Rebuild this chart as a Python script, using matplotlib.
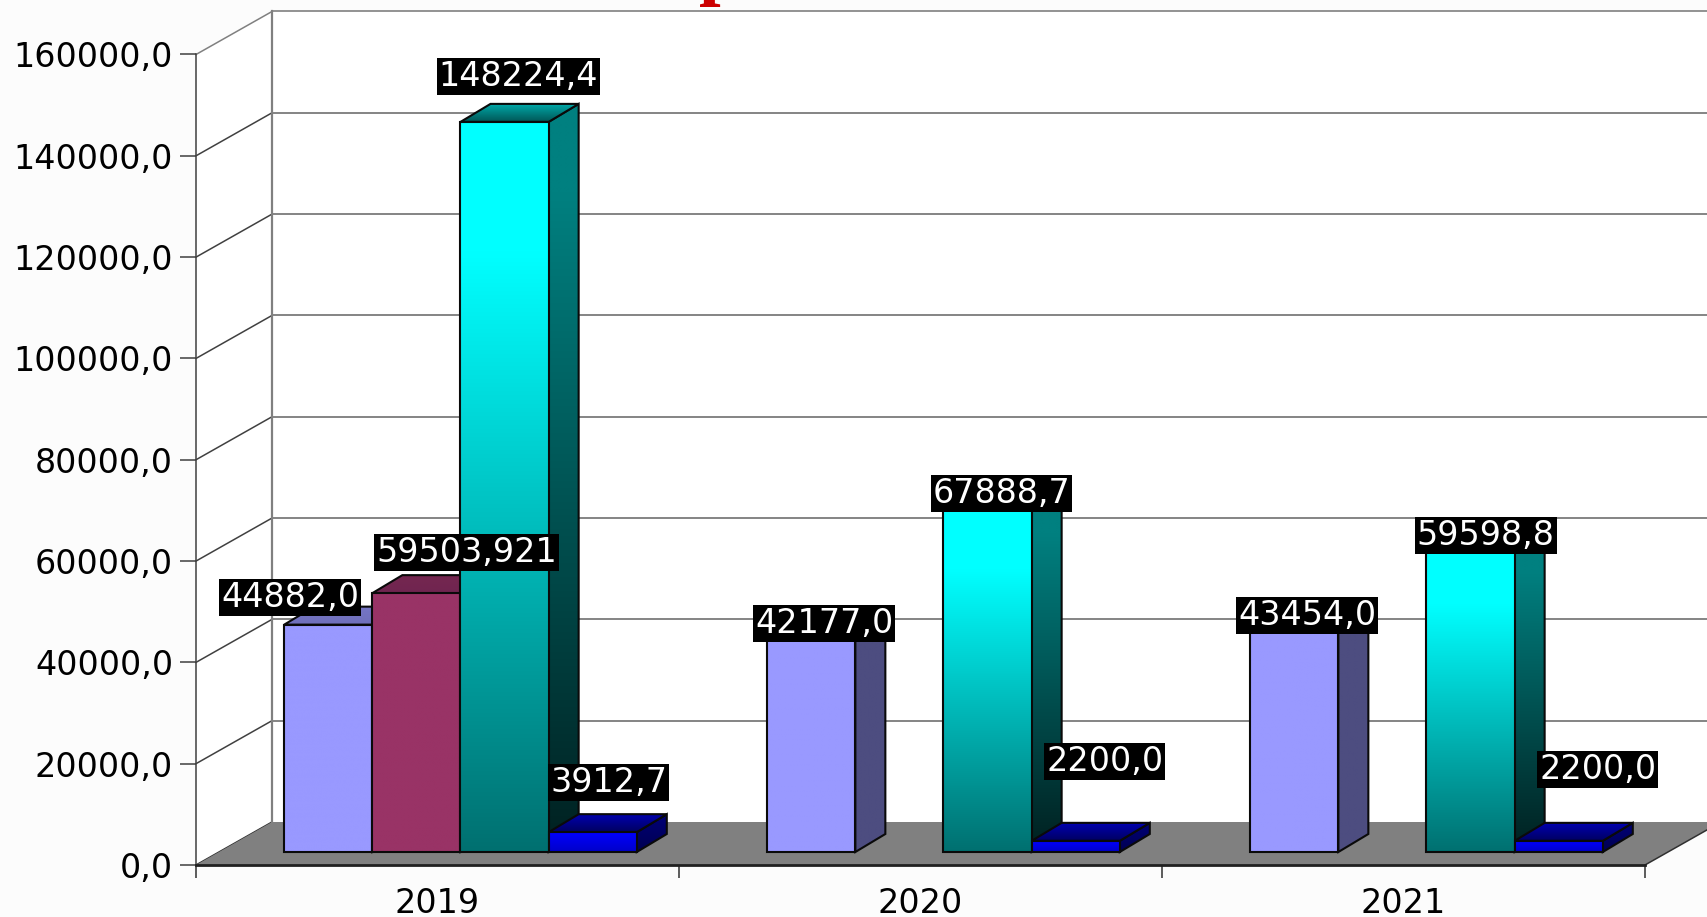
import numpy as np
import matplotlib
matplotlib.use("Agg")
import matplotlib.pyplot as plt
from matplotlib.patches import Polygon
from matplotlib.colors import LinearSegmentedColormap as LSC

years = ["2019", "2020", "2021"]
y_ticks = [0, 20000, 40000, 60000, 80000, 100000, 120000, 140000, 160000]
# bar heights
s_lilac = [44882.0, 42177.0, 43454.0]
s_plum = [51100.0, np.nan, np.nan]
s_cyan = [144130.0, 67888.7, 59598.8]
s_blue = [3912.7, 2200.0, 2200.0]
# data labels as printed in the picture
l_lilac = ["44882,0", "42177,0", "43454,0"]
l_plum = ["59503,921", "", ""]
l_cyan = ["148224,4", "67888,7", "59598,8"]
l_blue = ["3912,7", "2200,0", "2200,0"]
# label offsets from bar front-top centre (px of the reference)
o_lilac = [(-38, 27), (13, 15), (13, 16)]
o_plum = [(50, 41), None, None]
o_cyan = [(14, 45), (14, 15), (15, 15)]
o_blue = [(16, 50), (29, 79), (39, 71)]

W, H = 1708, 917
L, R, B, T = 196, 1645, 865, 54.5
fig = plt.figure(figsize=(W / 100, H / 100), dpi=100, facecolor="#fcfcfc")
ax = fig.add_axes([L / W, 1 - B / H, (R - L) / W, (B - T) / H])
ax.patch.set_alpha(0)
ax.set_xlim(0, 3)
ax.set_ylim(0, 160000)
px_x = 3 / (R - L)
px_y = 160000 / (B - T)
FDX, FDY = 76 * px_x, 43 * px_y      # full floor depth
BDX0, BDY0 = 23 * px_x, 13 * px_y    # bar front inset
BDX, BDY = 30 * px_x, 18 * px_y      # bar depth
BAR_W = 0.1825
X0 = 0.135

FONT = dict(family="DejaVu Sans", fontsize=24)
GRAY = "#808080"

# walls
ax.add_patch(Polygon([(FDX, 0 + FDY), (3.6, FDY), (3.6, 160000 + FDY), (FDX, 160000 + FDY)],
                     fc="white", ec="none", clip_on=False, zorder=0))
ax.add_patch(Polygon([(0, 0), (FDX, FDY), (FDX, 160000 + FDY), (0, 160000)],
                     fc="white", ec="none", clip_on=False, zorder=0))
for v in y_ticks:
    c = GRAY if v == 160000 else "#404040"
    ax.plot([0, FDX], [v, v + FDY], color=c if v else "#303030", lw=1.1, clip_on=False, zorder=1)
    if v:
        ax.plot([FDX, 3.6], [v + FDY, v + FDY], color="#707070" if v < 160000 else GRAY,
                lw=1.2, clip_on=False, zorder=1)
ax.plot([FDX, FDX], [FDY, 160000 + FDY], color=GRAY, lw=1.6, clip_on=False, zorder=1)

# floor
ax.add_patch(Polygon([(0, 0), (3, 0), (3 + FDX, FDY), (3.6, FDY), (FDX, FDY)],
                     fc=GRAY, ec="none", clip_on=False, zorder=1.5))
ax.plot([3, 3 + FDX], [0, FDY], color="#303030", lw=1.1, clip_on=False, zorder=1.6)


def grad_face(pts, stops, zorder):
    xs = [p[0] for p in pts]
    ys = [p[1] for p in pts]
    cmap = LSC.from_list("g", stops)
    arr = np.linspace(0, 1, 256)[:, None]
    im = ax.imshow(arr, cmap=cmap, vmin=0, vmax=1, origin="upper", aspect="auto",
                   extent=(min(xs), max(xs), min(ys), max(ys)), zorder=zorder,
                   interpolation="bilinear")
    poly = Polygon(pts, fc="none", ec="#0a0a0a", lw=1.5, zorder=zorder + 0.01, clip_on=False)
    ax.add_patch(poly)
    im.set_clip_path(poly)


def bar3d(i, slot, h, front, side, top, z):
    x = i + X0 + slot * BAR_W + BDX0
    x1 = x + BAR_W
    y = BDY0
    y1 = y + h
    fr = [(x, y), (x1, y), (x1, y1), (x, y1)]
    si = [(x1, y), (x1 + BDX, y + BDY), (x1 + BDX, y1 + BDY), (x1, y1)]
    to = [(x, y1), (x1, y1), (x1 + BDX, y1 + BDY), (x + BDX, y1 + BDY)]
    grad_face(si, side, z)
    grad_face(to, top, z + 0.1)
    grad_face(fr, front, z + 0.2)
    return (x + x1) / 2, y1


series = [
    (s_lilac, l_lilac, o_lilac, ["#9999ff", "#9999ff"], ["#4d4d80", "#4d4d80"], ["#7575c5", "#7070bb"]),
    (s_plum, l_plum, o_plum, ["#993366", "#993366"], ["#4d1a33", "#4d1a33"], ["#752750", "#702550"]),
    (s_cyan, l_cyan, o_cyan,
     [(0, "#00ffff"), (0.18, "#00ffff"), (1, "#007070")],
     [(0, "#008080"), (0.12, "#008080"), (1, "#002020")],
     ["#00a8a8", "#005555"]),
    (s_blue, l_blue, o_blue, ["#0000ff", "#0000c8"], ["#000078", "#000050"], ["#0000b0", "#000060"]),
]
anchors = []
for i in range(3):
    for slot, (vals, labs, offs, f, s, t) in enumerate(series):
        if np.isnan(vals[i]):
            continue
        cx, cy = bar3d(i, slot, vals[i], f, s, t, 3 + i + slot * 0.2)
        anchors.append((labs[i], cx, cy, offs[i]))

ax.set_xlim(0, 3)
ax.set_ylim(0, 160000)

for lab, cx, cy, (dx, dy) in anchors:
    ax.annotate(lab, (cx, cy), xytext=(dx * 0.72, dy * 0.72), textcoords="offset points",
                ha="center", va="center", color="white", zorder=20, annotation_clip=False,
                bbox=dict(fc="black", ec="none", pad=1.5), **FONT)

# axes furniture
for k in ("top", "right"):
    ax.spines[k].set_visible(False)
ax.spines["left"].set_color("#404040")
ax.spines["left"].set_linewidth(1.1)
ax.spines["bottom"].set_color("#202020")
ax.spines["bottom"].set_linewidth(2)
ax.spines["left"].set_zorder(2)
ax.spines["bottom"].set_zorder(2)
ax.set_yticks(y_ticks, [f"{v:.1f}".replace(".", ",") for v in y_ticks], color="black", **FONT)
ax.set_xticks([0, 1, 2, 3], [""] * 4)
ax.set_xticks([0.5, 1.5, 2.5], years, minor=True, **FONT)
ax.tick_params(axis="y", length=11.5, width=1.1, color="#404040", pad=5)
ax.tick_params(axis="x", which="major", length=9, width=1.1, color="#303030")
ax.tick_params(axis="x", which="minor", length=0, pad=15.5)

# foot of the clipped title letter at the very top
fig.text(721 / W, 1 + 10 / H, "р", color="#cc0000", ha="center", va="baseline",
         family="Liberation Serif", weight="bold", fontsize=56)

fig.savefig("out.png", dpi=100, facecolor=fig.get_facecolor())
